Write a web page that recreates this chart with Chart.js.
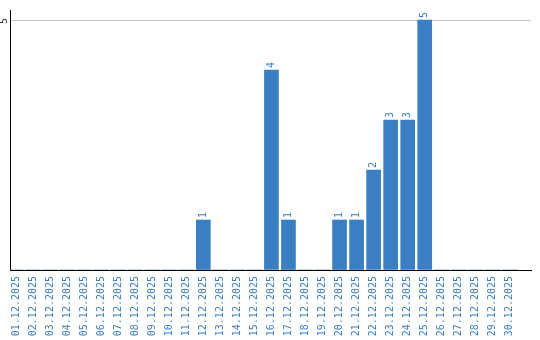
<!DOCTYPE html>
<html>
<head>
<meta charset="utf-8">
<script src="https://cdn.jsdelivr.net/npm/chart.js@4/dist/chart.umd.min.js"></script>
<style>
html,body{margin:0;padding:0;background:#fff;}
#wrap{width:540px;height:340px;position:relative;}
</style>
</head>
<body>
<div id="wrap"><canvas id="c"></canvas></div>
<script>
const categories = ['01.12.2025','02.12.2025','03.12.2025','04.12.2025','05.12.2025','06.12.2025','07.12.2025','08.12.2025','09.12.2025','10.12.2025','11.12.2025','12.12.2025','13.12.2025','14.12.2025','15.12.2025','16.12.2025','17.12.2025','18.12.2025','19.12.2025','20.12.2025','21.12.2025','22.12.2025','23.12.2025','24.12.2025','25.12.2025','26.12.2025','27.12.2025','28.12.2025','29.12.2025','30.12.2025'];
const values = [0,0,0,0,0,0,0,0,0,0,0,1,0,0,0,4,1,0,0,1,1,2,3,3,5,0,0,0,0,0];
const yTicks = [5];

const BLUE = '#3a7ec3';
const FONT = 'DejaVu Sans Mono';

const valueLabels = {
  id: 'valueLabels',
  afterDatasetsDraw(chart) {
    const ctx = chart.ctx;
    const meta = chart.getDatasetMeta(0);
    ctx.save();
    ctx.font = '10px "' + FONT + '"';
    ctx.fillStyle = BLUE;
    ctx.textAlign = 'left';
    ctx.textBaseline = 'middle';
    meta.data.forEach((el, i) => {
      if (!values[i]) return;
      ctx.save();
      ctx.translate(el.x, el.y - 2);
      ctx.rotate(-Math.PI / 2);
      ctx.fillText(String(values[i]), 0, 0);
      ctx.restore();
    });
    ctx.restore();
  }
};

const yLabels = {
  id: 'yLabels',
  afterDraw(chart) {
    const ctx = chart.ctx;
    const y = chart.scales.y;
    ctx.save();
    ctx.font = '10px "' + FONT + '"';
    ctx.fillStyle = '#333';
    ctx.textAlign = 'center';
    ctx.textBaseline = 'middle';
    yTicks.forEach(v => {
      ctx.save();
      ctx.translate(y.left + 4, y.getPixelForValue(v) + 1);
      ctx.rotate(-Math.PI / 2);
      ctx.fillText(String(v), 0, 0);
      ctx.restore();
    });
    ctx.restore();
  }
};

new Chart(document.getElementById('c'), {
  type: 'bar',
  data: {
    datasets: [{
      data: values.map((v, i) => ({x: i, y: v})),
      backgroundColor: BLUE,
      borderWidth: 0,
      barThickness: 14
    }]
  },
  options: {
    responsive: true,
    maintainAspectRatio: false,
    animation: false,
    layout: {padding: {top: 10, right: 9, left: 0, bottom: 0}},
    plugins: {legend: {display: false}, tooltip: {enabled: false}},
    scales: {
      x: {
        type: 'linear',
        offset: false,
        min: -0.35,
        max: 30.24,
        afterBuildTicks(scale) { scale.ticks = categories.map((c, i) => ({value: i})); },
        afterFit(scale) { scale.height = 70; },
        grid: {display: false, drawTicks: false, offset: false},
        border: {display: true, color: '#000', width: 1},
        ticks: {
          autoSkip: false,
          minRotation: 90,
          maxRotation: 90,
          padding: 6,
          color: BLUE,
          font: {family: FONT, size: 10},
          callback: (v) => categories[v] ?? ''
        }
      },
      y: {
        min: 0,
        max: 5.2,
        afterBuildTicks(scale) { scale.ticks = [{value: 0}].concat(yTicks.map(v => ({value: v}))); },
        afterFit(scale) { scale.width = 10; },
        grid: {
          drawTicks: false,
          color: (ctx) => ctx.tick && ctx.tick.value === 0 ? 'rgba(0,0,0,0)' : '#c8c8c8'
        },
        border: {display: true, color: '#000', width: 1},
        ticks: {display: false}
      }
    }
  },
  plugins: [valueLabels, yLabels]
});
</script>
</body>
</html>
